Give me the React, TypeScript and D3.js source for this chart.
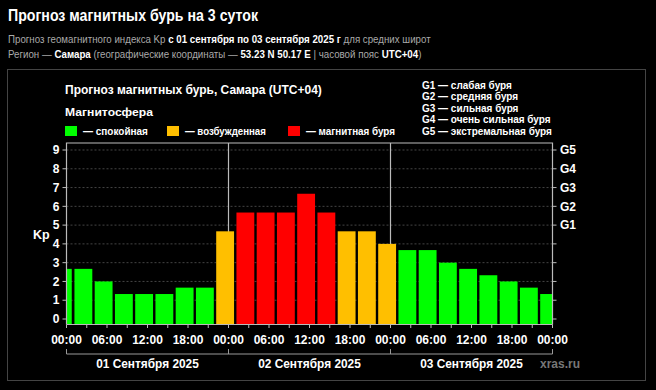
import * as d3 from "d3";
import { useRef, useLayoutEffect, useState } from "react";

// Kp forecast, 3-hour bins in UTC, shown in local time (UTC+04)
const kpValues = [
  2.67, 2.67, 2, 1.33, 1.33, 1.33, 1.67, 1.67,
  4.67, 5.67, 5.67, 5.67, 6.67, 5.67, 4.67, 4.67,
  4, 3.67, 3.67, 3, 2.67, 2.33, 2, 1.67, 1.33
];
const firstBinStart = -2; // hours from 01.09 00:00 local
const hourTicks = ["00:00", "06:00", "12:00", "18:00"];
const dayLabels = ["01 Сентября 2025", "02 Сентября 2025", "03 Сентября 2025"];
const gLabels = ["G1", "G2", "G3", "G4", "G5"];
const gLegend = [
  "G1 — слабая буря",
  "G2 — средняя буря",
  "G3 — сильная буря",
  "G4 — очень сильная буря",
  "G5 — экстремальная буря"
];
const legendItems = [
  { label: "— спокойная", color: "#00ff00", x: 65, w: 65 },
  { label: "— возбужденная", color: "#ffbf00", x: 167, w: 81 },
  { label: "— магнитная буря", color: "#ff0000", x: 288, w: 89 }
];

const width = 656;
const height = 390;
const font = "'Liberation Sans', Arial, sans-serif";

function kpColor(v: number) {
  if (v >= 5) return "#ff0000";
  if (v >= 4) return "#ffbf00";
  return "#00ff00";
}

// text squeezed horizontally to a target width
function FitText({ x, y, w, children, ...rest }: any) {
  const ref = useRef<SVGTextElement>(null);
  const [k, setK] = useState(1);
  useLayoutEffect(() => {
    if (!ref.current) return;
    const bw = ref.current.getBBox().width;
    if (bw > 0) setK(w / bw);
  }, [w]);
  return (
    <text ref={ref} transform={`translate(${x},${y}) scale(${k},1)`} {...rest}>
      {children}
    </text>
  );
}

// G-scale legend: all lines share one squeeze, set by the widest line
function GLegend({ x, y, w }: { x: number; y: number; w: number }) {
  const ref = useRef<SVGGElement>(null);
  const [k, setK] = useState(1);
  useLayoutEffect(() => {
    if (!ref.current) return;
    const bw = ref.current.getBBox().width;
    if (bw > 0) setK(w / bw);
  }, [w]);
  return (
    <g ref={ref} transform={`translate(${x},${y}) scale(${k},1)`}>
      {gLegend.map((t, i) => (
        <text key={t} y={i * 11.5} fill="#fff" fontWeight="bold" fontSize={11}>
          {t}
        </text>
      ))}
    </g>
  );
}

export default function App() {
  const x = d3.scaleLinear([0, 72], [66.5, 552.5]);
  const y = d3.scaleLinear([0, 9], [319, 150]);
  const plotTop = 143;
  const plotBottom = 324.5;

  const bins = kpValues.map((v, i) => {
    const s = Math.max(0, firstBinStart + i * 3);
    const e = Math.min(72, firstBinStart + i * 3 + 3);
    return { v, s, e };
  });

  const tickHours = d3.range(0, 73, 3);
  const labelHours = d3.range(0, 73, 6);

  return (
    <svg
      width={width}
      height={height}
      style={{ position: "absolute", left: 0, top: 0, background: "#000" }}
      fontFamily={font}
    >
      <rect width={width} height={height} fill="#000" />
      <FitText x={8} y={21} w={251} fill="#fff" fontWeight="bold" fontSize={16.5}>
        Прогноз магнитных бурь на 3 суток
      </FitText>
      <FitText x={8} y={43} w={423} fill="#aaa" fontSize={11}>
        Прогноз геомагнитного индекса Kp{" "}
        <tspan fill="#fff" fontWeight="bold">с 01 сентября по 03 сентября 2025 г</tspan> для средних широт
      </FitText>
      <FitText x={8} y={58} w={414} fill="#aaa" fontSize={11}>
        Регион — <tspan fill="#fff" fontWeight="bold">Самара</tspan> (географические координаты —{" "}
        <tspan fill="#fff" fontWeight="bold">53.23 N 50.17 E</tspan> | часовой пояс{" "}
        <tspan fill="#fff" fontWeight="bold">UTC+04</tspan>)
      </FitText>

      <rect x={7.5} y={69.5} width={638} height={311} fill="none" stroke="#444" />

      <FitText x={65} y={94} w={257} fill="#fff" fontWeight="bold" fontSize={12.5}>
        Прогноз магнитных бурь, Самара (UTC+04)
      </FitText>
      <FitText x={65} y={116} w={89} fill="#fff" fontWeight="bold" fontSize={11}>
        Магнитосфера
      </FitText>
      {legendItems.map((d) => (
        <g key={d.label}>
          <rect x={d.x} y={126} width={12} height={10} fill={d.color} />
          <FitText x={d.x + 18} y={135} w={d.w} fill="#fff" fontWeight="bold" fontSize={11}>
            {d.label}
          </FitText>
        </g>
      ))}
      <GLegend x={422} y={89} w={130} />

      {/* grid */}
      {d3.range(1, 10).map((k) => (
        <line
          key={k}
          x1={x(0)}
          x2={x(72)}
          y1={y(k)}
          y2={y(k)}
          stroke="#555"
          strokeDasharray="2,2"
          strokeWidth={0.8}
        />
      ))}
      {[24, 48].map((h) => (
        <line key={h} x1={x(h)} x2={x(h)} y1={plotTop} y2={plotBottom} stroke="#bbb" strokeWidth={1.2} />
      ))}

      {/* bars */}
      {bins.map((b, i) => (
        <rect
          key={i}
          x={x(b.s) + (b.s === 0 ? 0.5 : 1.2)}
          width={Math.max(0, x(b.e) - x(b.s) - (b.s === 0 ? 2 : 2.4) + (b.e === 72 ? 1.2 : 0))}
          y={y(b.v)}
          height={plotBottom - y(b.v)}
          fill={kpColor(b.v)}
        />
      ))}

      {/* frame */}
      <path
        d={`M${x(0)},${plotBottom}V${plotTop}H${x(72)}V${plotBottom}`}
        fill="none"
        stroke="#bbb"
        strokeWidth={1.2}
      />

      {/* left axis */}
      {d3.range(0, 10).map((k) => (
        <g key={k}>
          <line x1={x(0) - 4} x2={x(0)} y1={y(k)} y2={y(k)} stroke="#bbb" />
          <text x={x(0) - 7} y={y(k)} dy="0.35em" textAnchor="end" fill="#fff" fontWeight="bold" fontSize={12}>
            {k}
          </text>
        </g>
      ))}
      <text x={33} y={239} fill="#fff" fontWeight="bold" fontSize={12.5}>
        Kp
      </text>

      {/* right axis */}
      {d3.range(0, 10).map((k) => (
        <line key={k} x1={x(72)} x2={x(72) + 4} y1={y(k)} y2={y(k)} stroke="#bbb" />
      ))}
      {gLabels.map((g, i) => (
        <text key={g} x={x(72) + 7.5} y={y(5 + i)} dy="0.35em" fill="#fff" fontWeight="bold" fontSize={12}>
          {g}
        </text>
      ))}

      {/* bottom axis */}
      <line x1={x(0)} x2={x(72)} y1={plotBottom} y2={plotBottom} stroke="#bbb" />
      {tickHours.map((h) => (
        <line key={h} x1={x(h)} x2={x(h)} y1={plotBottom} y2={plotBottom + 3.5} stroke="#bbb" />
      ))}
      {labelHours.map((h) => (
        <text key={h} x={x(h)} y={343.5} textAnchor="middle" fill="#fff" fontWeight="bold" fontSize={12}>
          {hourTicks[(h / 6) % 4]}
        </text>
      ))}
      <path
        d={`M${x(0)},349V354H${x(72)}V349M${x(24)},354V349M${x(48)},354V349`}
        fill="none"
        stroke="#999"
      />
      {dayLabels.map((d, i) => (
        <FitText
          key={d}
          x={x(i * 24 + 12)}
          y={367.5}
          w={103}
          textAnchor="middle"
          fill="#fff"
          fontWeight="bold"
          fontSize={12}
        >
          {d}
        </FitText>
      ))}
      <text x={560} y={367.5} textAnchor="middle" fill="#777" fontWeight="bold" fontSize={12}>
        xras.ru
      </text>
    </svg>
  );
}
